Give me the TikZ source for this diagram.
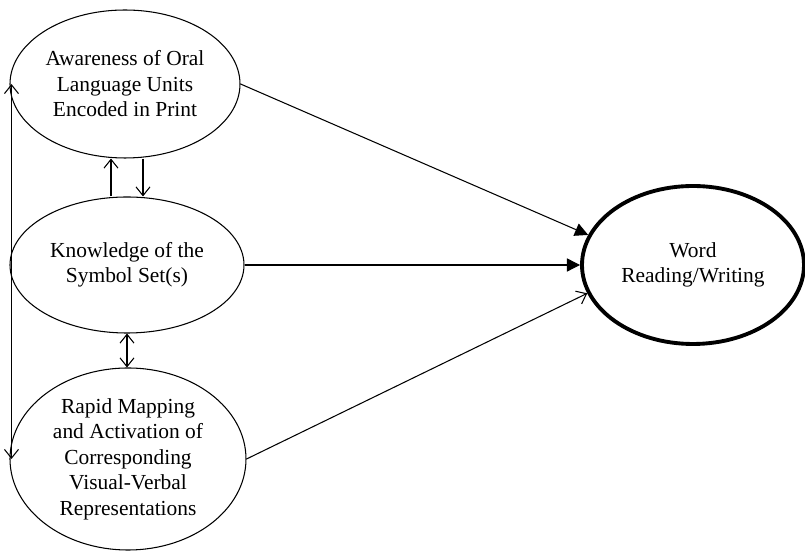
\documentclass[tikz,border=0pt]{standalone}
\usepackage{fontspec}
\setmainfont{Liberation Serif}
\usetikzlibrary{shapes,arrows.meta,positioning,calc}
\tikzset{
	factor/.style={ellipse,draw,line width=0.6pt,inner sep=0pt,align=center,font=\fontsize{12.2}{14.5}\selectfont},
	outcome/.style={ellipse,draw,line width=2.2pt,inner sep=0pt,align=center,font=\fontsize{12.2}{14.5}\selectfont},
	diredge/.style={->,>={Triangle[width=7.5pt,length=7.5pt]},color=black,line width=0.6pt},
	openedge/.style={->,>={Straight Barb[width=8pt,length=5pt]},color=black,line width=0.6pt},
	biedge/.style={<->,>={Straight Barb[width=8pt,length=5pt]},color=black,line width=0.6pt}
}
\begin{document}
\begin{tikzpicture}
		\useasboundingbox (0,0) rectangle (16.1,-11.04);
		\node[factor,minimum width=4.6cm,minimum height=2.96cm] (aware) at (2.5,-1.68) {Awareness of Oral\\Language Units\\Encoded in Print};
		\node[factor,minimum width=4.68cm,minimum height=2.72cm] (symb) at (2.54,-5.3) {Knowledge of the\\Symbol Set(s)};
		\node[factor,minimum width=4.72cm,minimum height=3.64cm] (rapid) at (2.56,-9.18) {Rapid Mapping\\and Activation of\\Corresponding\\Visual-Verbal\\Representations};
		\node[outcome,minimum width=4.44cm,minimum height=3.16cm] (word) at (13.86,-5.3) {Word\\Reading/Writing};
		
		%\draw (aware) -- (symb) (symb) -- (rapid);
		\draw[biedge] ([xshift=0.04cm]aware.west) -- ([xshift=0.04cm]rapid.west);
		\draw[openedge] ([xshift=-0.32cm]symb.north) -- ([xshift=-0.32cm]symb.north |- aware.south);
		\draw[openedge] ([xshift=0.32cm]symb.north |- aware.south) -- ([xshift=0.32cm]symb.north);
		\draw[biedge] (symb.south) -- (symb.south |- rapid.north);
		
		\draw[diredge] (aware.east) -- (word.164);
		\draw[diredge] (symb.east) -- (word.west);
		\draw[openedge] (rapid.east) -- (word.195);
		
	\end{tikzpicture}
\end{document}
